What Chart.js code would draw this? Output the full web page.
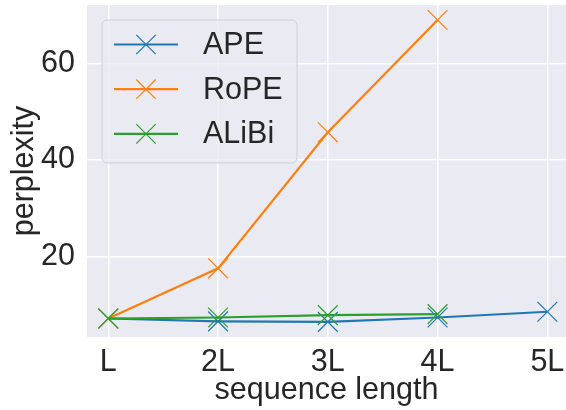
<!DOCTYPE html>
<html>
<head>
<meta charset="utf-8">
<script src="https://cdn.jsdelivr.net/npm/chart.js@4.4.1/dist/chart.umd.min.js"></script>
<style>
  html, body { margin: 0; padding: 0; background: #fff; }
  #wrap { width: 566px; height: 410px; }
</style>
</head>
<body>
<div id="wrap"><canvas id="chart"></canvas></div>
<script>
// data
const tickLabels = ['L', '2L', '3L', '4L', '5L'];
const lengths = [1, 2, 3, 4, 5];
const apeValues = [7.1, 6.5, 6.4, 7.3, 8.5];
const ropeValues = [7.1, 17.5, 45.7, 69.0];
const alibiValues = [7.1, 7.3, 7.8, 8.0];
const seriesNames = ['APE', 'RoPE', 'ALiBi'];
const seriesColors = ['#1f77b4', '#ff7f0e', '#2ca02c'];
const yTicks = [20, 40, 60];

const FONT = "'Liberation Sans', Arial, sans-serif";
const FS = 30.5;

function points(values) {
    return values.map((v, i) => ({ x: lengths[i], y: v }));
}

// grey plot background (seaborn darkgrid)
const bgPlugin = {
    id: 'bg',
    beforeDraw(chart) {
        const { ctx, chartArea: a } = chart;
        ctx.save();
        ctx.fillStyle = '#eaeaf2';
        ctx.fillRect(a.left, a.top, a.right - a.left, a.bottom - a.top);
        ctx.restore();
    }
};

// legend inside the plot, top-left
const legendPlugin = {
    id: 'innerLegend',
    afterDraw(chart) {
        const ctx = chart.ctx;
        const x = 102, y = 20, w = 195, h = 143;
        ctx.save();
        ctx.beginPath();
        ctx.roundRect(x, y, w, h, 5);
        ctx.fillStyle = 'rgba(234,234,242,0.8)';
        ctx.fill();
        ctx.strokeStyle = '#cfcfd6';
        ctx.lineWidth = 1;
        ctx.stroke();
        chart.data.datasets.forEach((ds, i) => {
            const cy = 44.5 + i * 44.7;
            ctx.strokeStyle = ds.borderColor;
            ctx.lineWidth = 2.2;
            ctx.beginPath();
            ctx.moveTo(114, cy);
            ctx.lineTo(178, cy);
            ctx.stroke();
            ctx.lineWidth = 1.2;
            const r = 9.7;
            ctx.beginPath();
            ctx.moveTo(146 - r, cy - r); ctx.lineTo(146 + r, cy + r);
            ctx.moveTo(146 - r, cy + r); ctx.lineTo(146 + r, cy - r);
            ctx.stroke();
            ctx.fillStyle = '#262626';
            ctx.font = FS + 'px ' + FONT;
            ctx.textBaseline = 'middle';
            ctx.textAlign = 'left';
            ctx.fillText(ds.label, 203, cy + 1);
        });
        ctx.restore();
    }
};

const datasets = [apeValues, ropeValues, alibiValues].map((vals, i) => ({
    label: seriesNames[i],
    data: points(vals),
    borderColor: seriesColors[i],
    backgroundColor: seriesColors[i],
    borderWidth: 2.2,
    pointStyle: 'crossRot',
    pointRadius: 14,
    pointHoverRadius: 14,
    pointBorderWidth: 1.2,
    order: 2 - i,
    tension: 0,
    clip: false
}));

function noPad(s) {
    s.paddingLeft = 0; s.paddingRight = 0;
    s.paddingTop = 0; s.paddingBottom = 0;
}

new Chart(document.getElementById('chart'), {
    type: 'line',
    data: { datasets },
    options: {
        responsive: true,
        maintainAspectRatio: false,
        animation: false,
        layout: { autoPadding: false, padding: { top: 5, right: 0, left: 0, bottom: 0 } },
        plugins: { legend: { display: false }, tooltip: { enabled: false } },
        scales: {
            x: {
                type: 'linear',
                min: 0.806,
                max: 5.17,
                afterBuildTicks: s => { s.ticks = lengths.map(v => ({ value: v })); },
                afterFit: s => { s.height = 73; noPad(s); },
                grid: { color: '#ffffff', lineWidth: 1.5, drawTicks: false },
                border: { display: false },
                ticks: {
                    color: '#262626',
                    font: { family: FONT, size: FS },
                    padding: 7,
                    maxRotation: 0,
                    callback: v => tickLabels[lengths.indexOf(v)]
                },
                title: {
                    display: true,
                    text: 'sequence length',
                    color: '#262626',
                    font: { family: FONT, size: FS },
                    padding: { top: 0, bottom: 1 }
                }
            },
            y: {
                min: 3.26,
                max: 72.1,
                afterBuildTicks: s => { s.ticks = yTicks.map(v => ({ value: v })); },
                afterFit: s => { s.width = 87; noPad(s); },
                grid: { color: '#ffffff', lineWidth: 1.5, drawTicks: false },
                border: { display: false },
                ticks: {
                    color: '#262626',
                    font: { family: FONT, size: FS },
                    padding: 12
                },
                title: {
                    display: true,
                    text: 'perplexity',
                    color: '#262626',
                    font: { family: FONT, size: FS },
                    padding: { top: 6, bottom: 0 }
                }
            }
        }
    },
    plugins: [bgPlugin, legendPlugin]
});
</script>
</body>
</html>
